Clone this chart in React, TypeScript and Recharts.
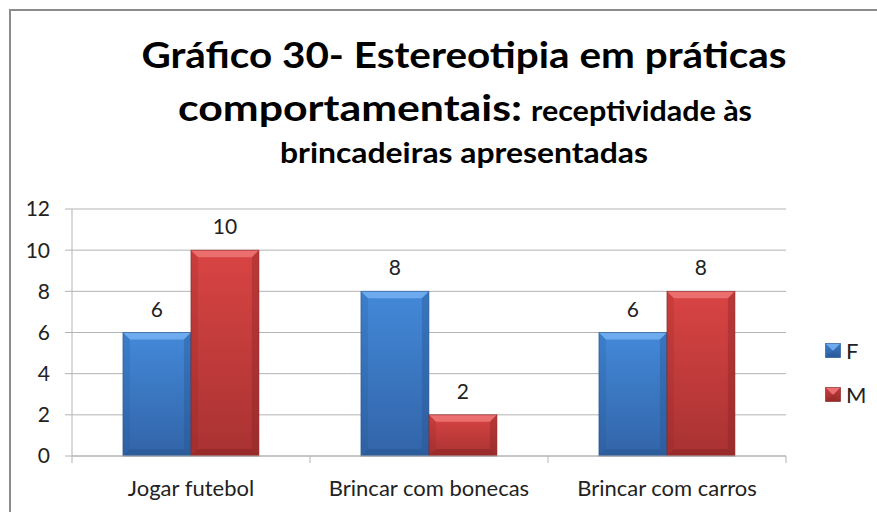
import { BarChart, Bar, XAxis, YAxis, CartesianGrid, LabelList } from "recharts";

const categories = ["Jogar futebol", "Brincar com bonecas", "Brincar com carros"];
const femaleValues = [6, 8, 6];
const maleValues = [10, 2, 8];
const seriesNames = ["F", "M"];
const yTicks = [0, 2, 4, 6, 8, 10, 12];

const data = categories.map((name, i) => ({ name, F: femaleValues[i], M: maleValues[i] }));

const FONT = "Lato, 'Open Sans', sans-serif";
const TEXT = "#222";
const GRID = "#b4b4b4";
// plot width / number of categories
const BAND = 714 / 3;

const palettes: Record<string, { bevel: string; edge: string }> = {
  F: { bevel: "#74b2f2", edge: "#24518c" },
  M: { bevel: "#ee7777", edge: "#842222" },
};

function BevelBar(props: any) {
  const { x, y, width, height, series } = props;
  if (!height || height <= 0) return null;
  const pal = palettes[series];
  const b = Math.min(7, height / 2);
  return (
    <g>
      <rect x={x} y={y} width={width} height={height} fill={`url(#grad-${series})`} />
      <polygon
        points={`${x},${y} ${x + width},${y} ${x + width - b},${y + b} ${x + b},${y + b}`}
        fill={pal.bevel}
        opacity={0.85}
      />
      <polygon
        points={`${x},${y} ${x + b},${y + b} ${x + b},${y + height - b} ${x},${y + height}`}
        fill={pal.edge}
        opacity={0.18}
      />
      <polygon
        points={`${x + width},${y} ${x + width - b},${y + b} ${x + width - b},${y + height - b} ${x + width},${y + height}`}
        fill={pal.edge}
        opacity={0.35}
      />
      <polygon
        points={`${x},${y + height} ${x + b},${y + height - b} ${x + width - b},${y + height - b} ${x + width},${y + height}`}
        fill={pal.edge}
        opacity={0.45}
      />
      <rect x={x} y={y} width={width} height={height} fill="none" stroke={pal.edge} strokeWidth={0.8} opacity={0.7} />
    </g>
  );
}

function CategoryTick(props: any) {
  const { x, y, payload, index } = props;
  return (
    <g>
      <line x1={x - BAND / 2} x2={x - BAND / 2} y1={y} y2={y + 7} stroke={GRID} />
      {index === categories.length - 1 && (
        <line x1={x + BAND / 2} x2={x + BAND / 2} y1={y} y2={y + 7} stroke={GRID} />
      )}
      <text x={x} y={y + 40} textAnchor="middle" fontFamily={FONT} fontSize={22} fill={TEXT}>
        {payload.value}
      </text>
    </g>
  );
}

function ValueLabel(props: any) {
  const { x, y, width, value } = props;
  return (
    <text x={x + width / 2} y={y - 16} textAnchor="middle" fontFamily={FONT} fontSize={21} fill={TEXT}>
      {value}
    </text>
  );
}

function LegendBox() {
  return (
    <div style={{ position: "absolute", left: 825, top: 328 }}>
      {seriesNames.map((name) => (
        <div key={name} style={{ display: "flex", alignItems: "center", height: 44 }}>
          <svg width={16} height={15} style={{ marginRight: 5 }}>
            <BevelBar x={0.5} y={0.5} width={15} height={14} series={name} />
          </svg>
          <span style={{ fontFamily: FONT, fontSize: 22, color: TEXT }}>{name}</span>
        </div>
      ))}
    </div>
  );
}

export default function App() {
  return (
    <div style={{ position: "fixed", left: 0, top: 0, width: 877, height: 512, background: "#fff", overflow: "hidden" }}>
      <svg width={0} height={0} style={{ position: "absolute" }}>
        <defs>
          <linearGradient id="grad-F" x1="0" y1="0" x2="0" y2="1">
            <stop offset="0%" stopColor="#4389d9" />
            <stop offset="100%" stopColor="#3264a8" />
          </linearGradient>
          <linearGradient id="grad-M" x1="0" y1="0" x2="0" y2="1">
            <stop offset="0%" stopColor="#d94444" />
            <stop offset="100%" stopColor="#a93232" />
          </linearGradient>
        </defs>
      </svg>

      <div
        style={{
          position: "absolute",
          left: 9,
          top: 9,
          width: 900,
          height: 600,
          borderLeft: "2px solid #8c8c8c",
          borderTop: "2px solid #8c8c8c",
        }}
      />

      <svg width={877} height={190} style={{ position: "absolute", left: 0, top: 0 }}>
        <g fontFamily={FONT} fontWeight={700} fill="#000">
          <text x={464} y={68} textAnchor="middle" fontSize={37} textLength={645} lengthAdjust="spacingAndGlyphs">
            Gráfico 30- Estereotipia em práticas
          </text>
          <text x={178} y={121} fontSize={37} textLength={344} lengthAdjust="spacingAndGlyphs">
            comportamentais:
          </text>
          <text x={531} y={121} fontSize={29} textLength={221} lengthAdjust="spacingAndGlyphs">
            receptividade às
          </text>
          <text x={464} y={163} textAnchor="middle" fontSize={29} textLength={368} lengthAdjust="spacingAndGlyphs">
            brincadeiras apresentadas
          </text>
        </g>
      </svg>

      <div style={{ position: "absolute", left: 0, top: 0 }}>
        <BarChart
          width={877}
          height={512}
          data={data}
          margin={{ top: 209, right: 91, bottom: 0, left: 0 }}
          barCategoryGap="21.4%"
          barGap={0}
        >
          <CartesianGrid vertical={false} stroke={GRID} />
          <XAxis
            dataKey="name"
            height={56}
            axisLine={{ stroke: GRID }}
            tickLine={false}
            tickSize={0}
            tickMargin={0}
            tick={<CategoryTick />}
            interval={0}
          />
          <YAxis
            width={72}
            domain={[0, 12]}
            ticks={yTicks}
            interval={0}
            axisLine={{ stroke: GRID }}
            tickLine={{ stroke: GRID }}
            tickSize={7}
            tickMargin={15}
            tick={{ fontFamily: FONT, fontSize: 21, fill: TEXT }}
          />
          <Bar dataKey="F" name="F" isAnimationActive={false} shape={(p: any) => <BevelBar {...p} series="F" />}>
            <LabelList dataKey="F" content={<ValueLabel />} />
          </Bar>
          <Bar dataKey="M" name="M" isAnimationActive={false} shape={(p: any) => <BevelBar {...p} series="M" />}>
            <LabelList dataKey="M" content={<ValueLabel />} />
          </Bar>
        </BarChart>
      </div>

      <LegendBox />
    </div>
  );
}
